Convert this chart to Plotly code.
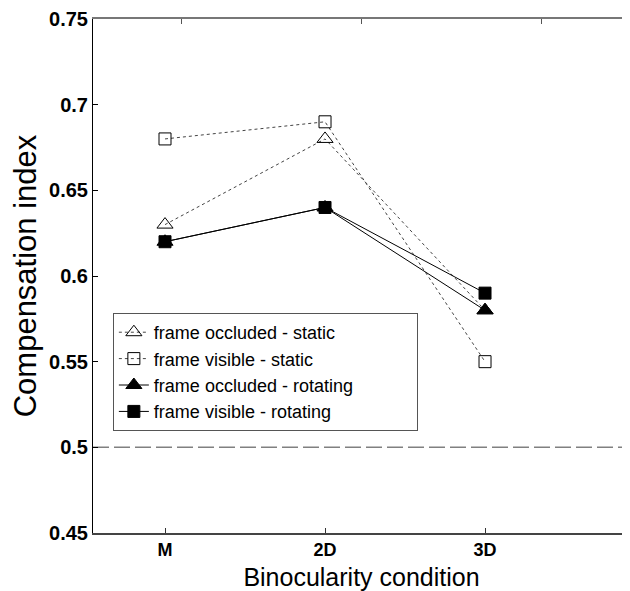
import plotly.graph_objects as go

categories = ["M", "2D", "3D"]
x_pos = [1, 2, 3]
occluded_static = [0.63, 0.68, 0.58]
visible_static = [0.68, 0.69, 0.55]
occluded_rotating = [0.62, 0.64, 0.58]
visible_rotating = [0.62, 0.64, 0.59]
y_ticks = [0.45, 0.5, 0.55, 0.6, 0.65, 0.7, 0.75]
y_tick_labels = ["0.45", "0.5", "0.55", "0.6", "0.65", "0.7", "0.75"]
reference_level = 0.5

FONT = "Liberation Sans, Arial, sans-serif"

fig = go.Figure()

series = [
    ("frame occluded - static", occluded_static, "dot", "triangle-up-open", 14, "#444444"),
    ("frame visible - static", visible_static, "dot", "square-open", 12, "#444444"),
    ("frame occluded - rotating", occluded_rotating, "solid", "triangle-up", 14, "black"),
    ("frame visible - rotating", visible_rotating, "solid", "square", 12, "black"),
]
for name, vals, dash, sym, size, lc in series:
    fig.add_trace(go.Scatter(
        x=x_pos, y=vals, name=name, mode="lines+markers",
        line=dict(color=lc, width=1, dash=dash),
        marker=dict(symbol=sym, size=size, color="black",
                    line=dict(color="black", width=1)),
    ))

# invisible trace for top axis ticks
fig.add_trace(go.Scatter(x=x_pos, y=[None, None, None], xaxis="x2",
                         showlegend=False, hoverinfo="skip"))

fig.add_shape(type="line", xref="paper", x0=0, x1=1, yref="y",
              y0=reference_level, y1=reference_level,
              line=dict(color="#808080", width=1.5, dash="16px,5px"), layer="below")

fig.update_layout(
    width=622, height=583,
    margin=dict(l=85, r=0, t=11, b=58),
    paper_bgcolor="white", plot_bgcolor="white",
    font=dict(family=FONT, color="black"),
    showlegend=True,
    legend=dict(
        x=0.037, y=0.428, xanchor="left", yanchor="top",
        orientation="h", entrywidth=258, entrywidthmode="pixels",
        bgcolor="white", bordercolor="#555555", borderwidth=1,
        font=dict(size=18, family=FONT, color="black"),
        tracegroupgap=0, itemwidth=30,
    ),
    xaxis=dict(
        range=[0.55, 3.906], tickvals=x_pos, ticktext=categories,
        ticks="inside", ticklen=5, tickcolor="#333333",
        showline=True, linecolor="#444444", linewidth=1.5,
        showgrid=False, zeroline=False,
        tickfont=dict(size=18, family=FONT, color="black", weight="bold"),
        title=dict(text="Binocularity condition", font=dict(size=25, family=FONT),
                   standoff=9),
    ),
    xaxis2=dict(
        overlaying="x", side="top", range=[0.511, 3.494], tickvals=x_pos,
        showticklabels=False, ticks="inside", ticklen=5, tickcolor="#555555",
        showline=True, linecolor="#777777", linewidth=1.5,
        showgrid=False, zeroline=False,
    ),
    yaxis=dict(
        range=[0.45, 0.75], tickvals=y_ticks, ticktext=y_tick_labels,
        ticks="inside", ticklen=5, tickcolor="black",
        showline=True, linecolor="black", linewidth=1,
        showgrid=False, zeroline=False,
        tickfont=dict(size=20, family=FONT, color="black", weight="bold"),
        title=dict(text="Compensation index", font=dict(size=31, family=FONT),
                   standoff=4),
    ),
)

fig.write_html("out.html")
